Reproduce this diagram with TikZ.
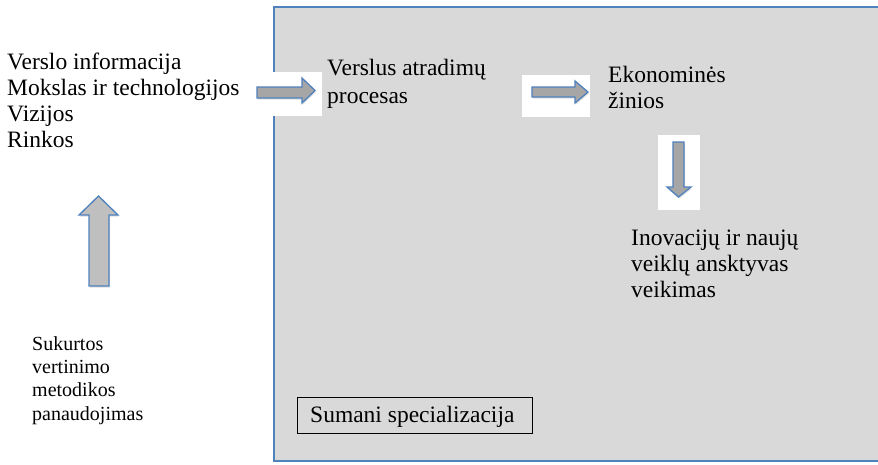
\documentclass[tikz,border=0pt]{standalone}
\usepackage{fontspec}
\setmainfont{Liberation Serif}
\usetikzlibrary{shadows}
\definecolor{panelgray}{HTML}{D9D9D9}
\definecolor{arrowgray}{HTML}{A6A6A6}
\definecolor{arrowgraylt}{HTML}{BFBFBF}
\definecolor{edgeblue}{HTML}{4F81BD}
\tikzset{
  bigtxt/.style={inner sep=0pt, anchor=base west, align=left,
    font=\fontsize{23.5}{25.7}\selectfont},
  smalltxt/.style={inner sep=0pt, anchor=base west, align=left,
    font=\fontsize{20}{23.3}\selectfont},
  blockarrow/.style={fill=arrowgray, draw=edgeblue, line width=1.3pt, line join=miter,
    drop shadow={opacity=0.25, shadow xshift=1pt, shadow yshift=-1.5pt}},
  patch/.style={fill=white, draw=none},
}
\begin{document}
\begin{tikzpicture}[x=1pt, y=-1pt]
\useasboundingbox (0,0) rectangle (878,464);
% main panel
\path[fill=panelgray, draw=edgeblue, line width=2pt] (274,7) rectangle (882,461);
\coordinate (panel) at (274,7);

% left list (base anchor = baseline of last line)
\node[bigtxt] (sources) at (7,147) {Verslo informacija\\Mokslas ir technologijos\\Vizijos\\Rinkos};
\node[smalltxt] (method) at (32,420) {Sukurtos\\vertinimo\\metodikos\\panaudojimas};

% arrow 1 (right)
\path[patch] (252,72) rectangle (322,116);
\draw[blockarrow] (257,87) -- (302,87) -- (302,78) -- (315,90.5) -- (302,103) -- (302,98) -- (257,98) -- cycle;

% process text
\node[bigtxt, font=\fontsize{23.5}{28}\selectfont] (process) at (327,103) {Verslus atradimų\\procesas};

% arrow 2 (right)
\path[patch] (522,75) rectangle (590,117);
\draw[blockarrow] (532,87) -- (575,87) -- (575,81) -- (588,92) -- (575,103) -- (575,97) -- (532,97) -- cycle;

\node[bigtxt, font=\fontsize{23.5}{26}\selectfont] (knowledge) at (608,108) {Ekonominės\\žinios};

% arrow 3 (down)
\path[patch] (658,135) rectangle (700,210);
\draw[blockarrow] (673,142) -- (684,142) -- (684,187) -- (691,187) -- (678.5,197) -- (667,187) -- (673,187) -- cycle;

\node[bigtxt] (innov) at (631,297) {Inovacijų ir naujų\\veiklų ansktyvas\\veikimas};

% arrow 4 (up)
\draw[blockarrow, fill=arrowgraylt] (89,286) -- (89,215) -- (79,215) -- (98.5,196) -- (118,215) -- (109,215) -- (109,286) -- cycle;

% smart specialisation box
\draw[fill=panelgray, draw=black, line width=1pt] (297,397) rectangle (532,433);
\node[bigtxt] (smart) at (310,422) {Sumani specializacija};
\end{tikzpicture}
\end{document}
